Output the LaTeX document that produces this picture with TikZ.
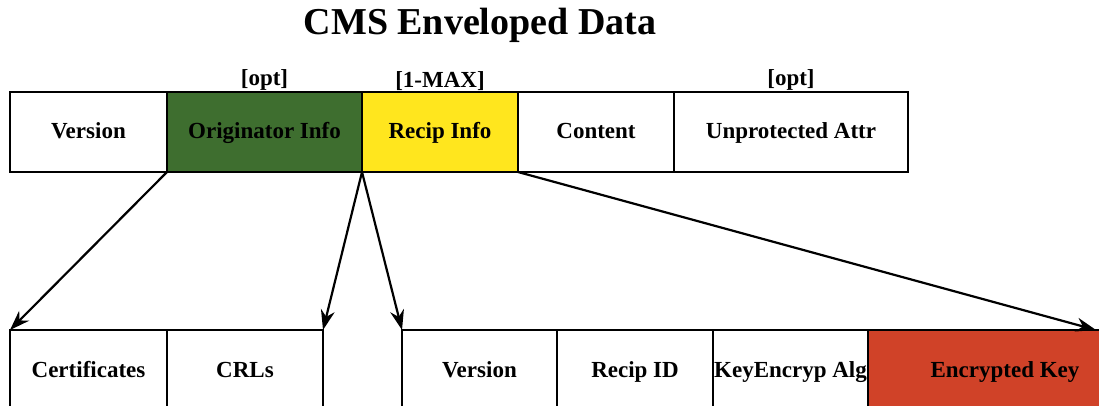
\documentclass[tikz,border=0pt]{standalone}
\usepackage{fontspec}
\setmainfont{Liberation Serif}
\usetikzlibrary{positioning, arrows.meta}

\definecolor{origgreen}{RGB}{62,110,47}
\definecolor{recipyellow}{RGB}{255,230,30}
\definecolor{keyred}{RGB}{208,66,40}

\tikzset{
	field/.style={draw, line width=2.8pt, outer sep=0pt, inner sep=0pt, minimum height=80pt,
		text height=16pt, text depth=2pt, font=\fontsize{23}{27}\selectfont\bfseries},
	tag/.style={anchor=south, inner sep=0pt, font=\fontsize{23}{27}\selectfont\bfseries},
	link/.style={line width=2.2pt, -{Stealth[length=20pt, width=14pt]}},
}

\begin{document}
\begin{tikzpicture}[x=1pt, y=-1pt]
	\useasboundingbox (0,0) rectangle (1099,406);
	\clip (0,0) rectangle (1099,406);

	\node[font=\fontsize{38}{44}\selectfont\bfseries] (title) at (480,25) {CMS Enveloped Data};

	% top row
	\node[field, minimum width=157pt] (ver) at (88.5,132) {Version};
	\node[field, fill=origgreen, minimum width=195pt, right=0pt of ver] (orig) {Originator Info};
	\node[field, fill=recipyellow, minimum width=156pt, right=0pt of orig] (recip) {Recip Info};
	\node[field, minimum width=156pt, right=0pt of recip] (cont) {Content};
	\node[field, minimum width=234pt, right=0pt of cont] (unprot) {Unprotected Attr};

	\node[tag] (origtag) at ([yshift=1pt]orig.north) {[opt]};
	\node[tag] (reciptag) at ([yshift=1pt]recip.north) {[1-MAX]};
	\node[tag] (unprottag) at ([yshift=1pt]unprot.north) {[opt]};

	% bottom row
	\node[field, minimum width=157pt] (cert) at (88.5,370) {Certificates};
	\node[field, minimum width=156pt, right=0pt of cert] (crl) {CRLs};

	\node[field, minimum width=155pt] (rver) at (479.5,370) {Version};
	\node[field, minimum width=156pt, right=0pt of rver] (rid) {Recip ID};
	\node[field, minimum width=155pt, right=0pt of rid] (kea) {KeyEncryp Alg};
	\node[field, fill=keyred, minimum width=274pt, right=0pt of kea] (ekey) {Encrypted Key};
	\coordinate (ekeytip) at (1096,330);

	\draw[link] (orig.south west) -- (cert.north west);
	\draw[link] (orig.south east) -- (crl.north east);
	\draw[link] (orig.south east) -- (rver.north west);
	\draw[link] (recip.south east) -- (ekeytip);
\end{tikzpicture}
\end{document}
